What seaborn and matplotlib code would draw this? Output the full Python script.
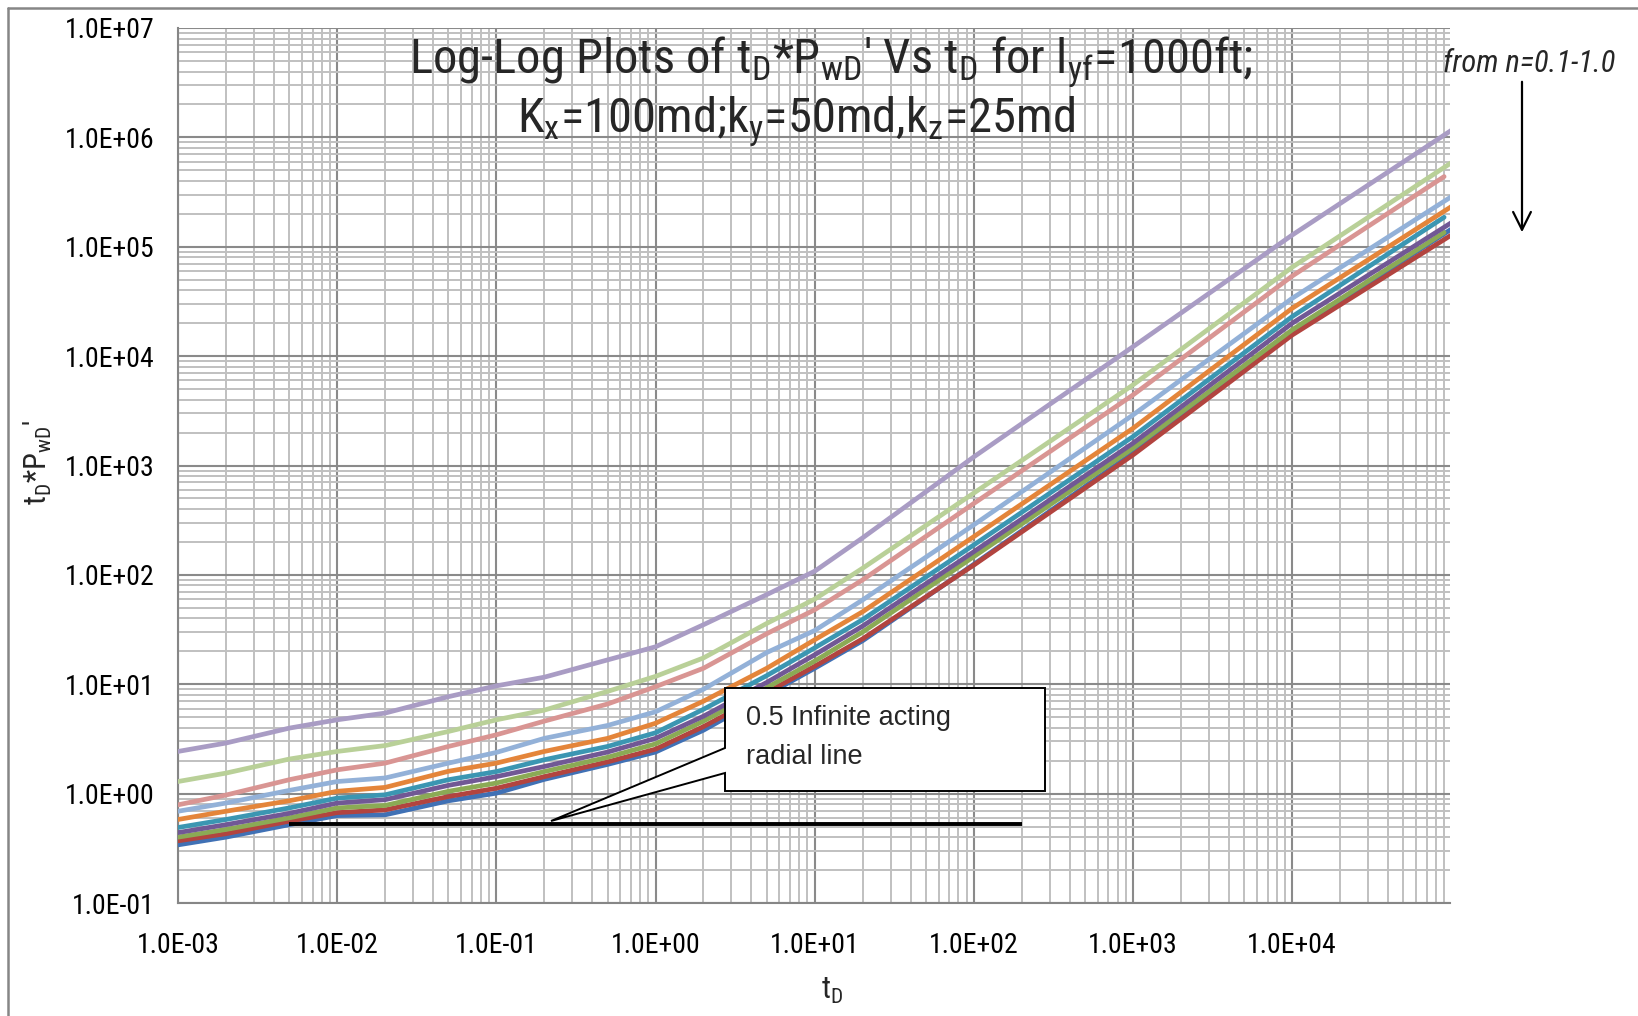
import numpy as np
import pandas as pd
import matplotlib
matplotlib.use("Agg")
import matplotlib.pyplot as plt
import seaborn as sns
from matplotlib.ticker import LogLocator, FuncFormatter, NullFormatter
from matplotlib.patches import Polygon
from matplotlib.lines import Line2D

# ---------------- data ----------------
t_D = [1e-3, 2e-3, 5e-3, 1e-2, 2e-2, 5e-2, 0.1, 0.2, 0.5, 1, 2, 5, 10, 20, 100, 1e3, 1e4, 1e5]

n_01 = [2.43, 2.9, 3.97, 4.73, 5.45, 7.7, 9.66, 11.6, 16.7, 22, 35, 66, 108, 218, 1200, 12200, 128000, 1.16e6]
n_02 = [1.29, 1.54, 2.07, 2.43, 2.75, 3.7, 4.73, 5.8, 8.6, 11.8, 17.4, 36, 60, 115, 560, 5460, 65000, 5.87e5]
n_03 = [0.79, 0.97, 1.34, 1.65, 1.9, 2.7, 3.45, 4.6, 6.6, 9.5, 14.0, 29, 48, 90, 450, 4420, 54000, 4.38e5]
n_04 = [0.69, 0.82, 1.07, 1.29, 1.39, 1.9, 2.38, 3.2, 4.2, 5.6, 9.0, 19.5, 31, 59, 287, 2900, 33800, 2.87e5]
n_05 = [0.58, 0.69, 0.86, 1.05, 1.14, 1.6, 1.9, 2.43, 3.2, 4.4, 7.0, 14, 25.5, 46, 224, 2190, 27400, 2.33e5]
n_06 = [0.49, 0.58, 0.74, 0.91, 0.975, 1.34, 1.59, 2.04, 2.7, 3.6, 5.9, 12, 21.5, 39, 188, 1840, 23000, 1.86e5]
n_07 = [0.44, 0.52, 0.66, 0.82, 0.88, 1.19, 1.43, 1.77, 2.4, 3.2, 5.1, 10.4, 18.6, 34, 163, 1600, 20000, 1.66e5]
n_08 = [0.40, 0.47, 0.60, 0.74, 0.78, 1.05, 1.25, 1.59, 2.15, 2.85, 4.6, 9.3, 16.3, 30, 147, 1440, 17400, 1.35e5]
n_09 = [0.37, 0.43, 0.56, 0.67, 0.71, 0.94, 1.12, 1.43, 1.95, 2.55, 4.1, 8.4, 14.6, 26, 123, 1250, 15600, 1.28e5]
n_10 = [0.34, 0.40, 0.52, 0.63, 0.64, 0.86, 1.01, 1.35, 1.85, 2.4, 3.8, 8.0, 14.0, 25, 125, 1300, 16500, 1.45e5]

series_names = ["n=1.0", "n=0.9", "n=0.8", "n=0.7", "n=0.6", "n=0.5", "n=0.4", "n=0.3", "n=0.2", "n=0.1"]
series_values = [n_10, n_09, n_08, n_07, n_06, n_05, n_04, n_03, n_02, n_01]
series_t_end = [1e5, 1e5, 9e4, 1e5, 9e4, 1e5, 1e5, 9e4, 1e5, 1e5]
series_colors = ["#4071B5", "#B2443F", "#8BAA55", "#715895", "#3B96B2",
                 "#E4853A", "#93B1D8", "#D99593", "#B9D098", "#A99CC4"]

radial_t = [5e-3, 200]
radial_v = [0.53, 0.53]

x_ticks = [1e-3, 1e-2, 1e-1, 1e0, 1e1, 1e2, 1e3, 1e4]

# ---------------- build table ----------------
rows = []
for name, vals, tend in zip(series_names, series_values, series_t_end):
    ts = list(t_D[:-1]) + [tend]
    for t, v in zip(ts, vals):
        rows.append({"t": t, "v": v, "series": name})
df = pd.DataFrame(rows)

# ---------------- style ----------------
sns.set_style("white")
FAM = ["Roboto Condensed", "Liberation Sans Narrow", "Roboto", "DejaVu Sans"]
plt.rcParams["font.family"] = FAM

W, H = 1638, 1016
fig = plt.figure(figsize=(W / 100, H / 100), dpi=100)
L, R, T, B = 178, 1450, 28, 903
ax = fig.add_axes([L / W, 1 - B / H, (R - L) / W, (B - T) / H])

palette = dict(zip(series_names, series_colors))
sns.lineplot(data=df, x="t", y="v", hue="series", hue_order=series_names,
             palette=palette, estimator=None, sort=False, linewidth=3.4,
             legend=False, ax=ax, zorder=3)
ax.plot(radial_t, radial_v, color="black", linewidth=2.8, zorder=4,
        solid_capstyle="butt")

ax.set_xscale("log")
ax.set_yscale("log")
ax.set_xlim(1e-3, 9.8e4)
ax.set_ylim(1e-1, 1e7)

ax.yaxis.set_major_locator(LogLocator(base=10, numticks=30))
ax.xaxis.set_minor_locator(LogLocator(base=10, subs=np.arange(2, 10), numticks=300))
ax.yaxis.set_minor_locator(LogLocator(base=10, subs=np.arange(2, 10), numticks=300))
ax.set_xticks(x_ticks)
fmt = FuncFormatter(lambda v, p: f"{v:.1E}")
ax.xaxis.set_major_formatter(fmt)
ax.yaxis.set_major_formatter(fmt)
ax.xaxis.set_minor_formatter(NullFormatter())
ax.yaxis.set_minor_formatter(NullFormatter())

ax.grid(True, which="minor", color="#C0C0C0", linewidth=1.4, zorder=0)
ax.grid(True, which="major", color="#8A8A8A", linewidth=1.5, zorder=1)
ax.set_axisbelow(True)
ax.tick_params(axis="both", which="both", length=0)
ax.tick_params(axis="x", which="major", labelsize=20, pad=21, colors="black")
ax.tick_params(axis="y", which="major", labelsize=20, pad=17, colors="black")

for s in ["top", "right"]:
    ax.spines[s].set_visible(False)
for s in ["left", "bottom"]:
    ax.spines[s].set_color("#868686")
    ax.spines[s].set_linewidth(1.5)

ax.set_xlabel("")
ax.set_ylabel("")

# axis titles
fig.text(832 / W, 1 - 999 / H, r"t$\mathregular{_D}$", fontsize=22, ha="center", va="baseline")
fig.text(38 / W, 1 - 462 / H, r"t$\mathregular{_D}$*P$\mathregular{_{wD}}$'", fontsize=22,
         ha="center", va="center", rotation=90)

# chart title
fig.text(831 / W, 1 - 73 / H,
         r"Log-Log Plots of t$\mathregular{_D}$*P$\mathregular{_{wD}}$' Vs t$\mathregular{_D}$ for l$\mathregular{_{yf}}$=1000ft;",
         fontsize=35, ha="center", va="baseline")
fig.text(796 / W, 1 - 132 / H,
         r"K$\mathregular{_x}$=100md;k$\mathregular{_y}$=50md,k$\mathregular{_z}$=25md",
         fontsize=35, ha="center", va="baseline")

# n-direction note with arrow
fig.text(1443 / W, 1 - 72 / H, "from n=0.1-1.0", fontsize=22, style="italic",
         ha="left", va="baseline")
ax.annotate("", xy=(1522 / W, 1 - 235 / H), xytext=(1522 / W, 1 - 79 / H),
            xycoords="figure fraction", textcoords="figure fraction",
            annotation_clip=False,
            arrowprops=dict(arrowstyle="->", lw=1.6, color="black", mutation_scale=32))

# callout box
def px2ax(px, py):
    return ((px - L) / (R - L), (B - py) / (B - T))

poly_px = [(725, 688), (1045, 688), (1045, 791), (725, 791), (725, 773), (551, 821), (725, 748)]
poly = Polygon([px2ax(*p) for p in poly_px], closed=True, transform=ax.transAxes,
               facecolor="white", edgecolor="black", linewidth=1.4, zorder=6,
               clip_on=False)
ax.add_patch(poly)
cx, cy1 = px2ax(746, 718)
_, cy2 = px2ax(746, 757)
ax.text(cx, cy1, "0.5 Infinite acting", transform=ax.transAxes, fontsize=19.5,
        family=["Liberation Sans", "DejaVu Sans"], ha="left", va="center", zorder=7)
ax.text(cx, cy2, "radial line", transform=ax.transAxes, fontsize=19.5,
        family=["Liberation Sans", "DejaVu Sans"], ha="left", va="center", zorder=7)

# outer chart border (cut off at right and bottom)
fig.add_artist(Line2D([8 / W, 8 / W], [0, 1 - 8 / H], transform=fig.transFigure,
                      color="#868686", linewidth=1.8))
fig.add_artist(Line2D([8 / W, 1], [1 - 8 / H, 1 - 8 / H], transform=fig.transFigure,
                      color="#868686", linewidth=1.8))

fig.savefig("out.png", dpi=100, facecolor="white")
